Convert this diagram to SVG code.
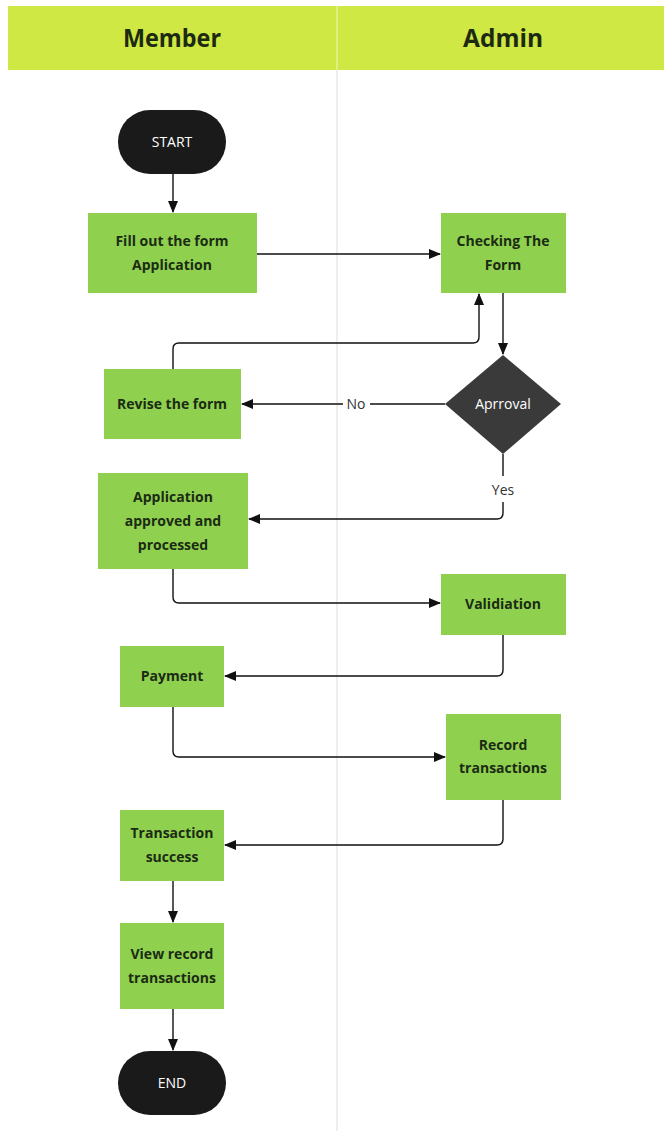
<svg xmlns="http://www.w3.org/2000/svg" width="664" height="1131" viewBox="0 0 664 1131">
<defs>
<marker id="ah" markerWidth="12" markerHeight="10" refX="11" refY="5" orient="auto" markerUnits="userSpaceOnUse">
<path d="M0,0 L12,5 L0,10 Z" fill="#111"/>
</marker>
<style>
.box{fill:#8fd14f;}
.lbl{font-family:"Open Sans","Liberation Sans",sans-serif;font-weight:bold;font-size:14px;fill:#1b2b14;text-anchor:middle;}
.term{fill:#1a1a1a;}
.tw{font-family:"Open Sans","Liberation Sans",sans-serif;font-size:14px;fill:#fff;text-anchor:middle;}
.hd{font-family:"Open Sans","Liberation Sans",sans-serif;font-weight:bold;font-size:25px;fill:#1d2a12;text-anchor:middle;}
.cn{fill:none;stroke:#111;stroke-width:1.4;}
.cl{font-family:"Open Sans","Liberation Sans",sans-serif;font-size:14px;fill:#333;text-anchor:middle;}
</style>
</defs>
<rect width="664" height="1131" fill="#fff"/>
<g id="header">
<rect x="8" y="6" width="656" height="64" fill="#cfe843"/>
<line x1="337" y1="6" x2="337" y2="70" stroke="#e6f29a" stroke-width="1.5"/>
<text class="hd" x="172" y="47" textLength="98" lengthAdjust="spacingAndGlyphs">Member</text>
<text class="hd" x="503" y="47" textLength="80" lengthAdjust="spacingAndGlyphs">Admin</text>
</g>
<g id="lanes">
<line x1="337" y1="70" x2="337" y2="1131" stroke="#e8e8e8" stroke-width="1.5"/>
</g>
<g id="connectors">
<path class="cn" d="M173,174 V212" marker-end="url(#ah)"/>
<path class="cn" d="M257,254 H440" marker-end="url(#ah)"/>
<path class="cn" d="M503,293 V354" marker-end="url(#ah)"/>
<path class="cn" d="M445,404 H370"/>
<path class="cn" d="M343,404 H242" marker-end="url(#ah)"/>
<text class="cl" x="356" y="409">No</text>
<path class="cn" d="M173,369 V349 Q173,343 179,343 H473 Q479,343 479,337 V294" marker-end="url(#ah)"/>
<path class="cn" d="M503,454 V476"/>
<text class="cl" x="503" y="495">Yes</text>
<path class="cn" d="M503,502 V513 Q503,519 497,519 H249" marker-end="url(#ah)"/>
<path class="cn" d="M173,569 V597 Q173,603 179,603 H440" marker-end="url(#ah)"/>
<path class="cn" d="M503,635 V670 Q503,676 497,676 H225" marker-end="url(#ah)"/>
<path class="cn" d="M173,707 V751 Q173,757 179,757 H445" marker-end="url(#ah)"/>
<path class="cn" d="M503,800 V839 Q503,845 497,845 H225" marker-end="url(#ah)"/>
<path class="cn" d="M173,881 V922" marker-end="url(#ah)"/>
<path class="cn" d="M173,1009 V1050" marker-end="url(#ah)"/>
</g>
<g id="start">
<rect class="term" x="118" y="110" width="108" height="64" rx="32"/>
<text class="tw" x="172" y="147">START</text>
</g>
<g id="fill-form">
<rect class="box" x="88" y="213" width="169" height="80"/>
<text class="lbl" x="172" y="246">Fill out the form</text>
<text class="lbl" x="172" y="270">Application</text>
</g>
<g id="checking">
<rect class="box" x="441" y="213" width="125" height="80"/>
<text class="lbl" x="503" y="246">Checking The</text>
<text class="lbl" x="503" y="270">Form</text>
</g>
<g id="approval">
<polygon points="503,355 561,404 503,454 445,404" fill="#3a3a3a"/>
<text class="tw" x="503" y="409">Aprroval</text>
</g>
<g id="revise">
<rect class="box" x="104" y="369" width="137" height="70"/>
<text class="lbl" x="172" y="409">Revise the form</text>
</g>
<g id="approved">
<rect class="box" x="98" y="473" width="150" height="96"/>
<text class="lbl" x="173" y="502">Application</text>
<text class="lbl" x="173" y="526">approved and</text>
<text class="lbl" x="173" y="550">processed</text>
</g>
<g id="validation">
<rect class="box" x="441" y="574" width="125" height="61"/>
<text class="lbl" x="503" y="609">Validiation</text>
</g>
<g id="payment">
<rect class="box" x="120" y="646" width="104" height="61"/>
<text class="lbl" x="172" y="681">Payment</text>
</g>
<g id="record">
<rect class="box" x="446" y="714" width="115" height="86"/>
<text class="lbl" x="503" y="750">Record</text>
<text class="lbl" x="503" y="773">transactions</text>
</g>
<g id="success">
<rect class="box" x="120" y="810" width="104" height="71"/>
<text class="lbl" x="172" y="838">Transaction</text>
<text class="lbl" x="172" y="862">success</text>
</g>
<g id="view">
<rect class="box" x="120" y="923" width="104" height="86"/>
<text class="lbl" x="172" y="959">View record</text>
<text class="lbl" x="172" y="983">transactions</text>
</g>
<g id="end">
<rect class="term" x="118" y="1051" width="108" height="64" rx="32"/>
<text class="tw" x="172" y="1088">END</text>
</g>
</svg>
